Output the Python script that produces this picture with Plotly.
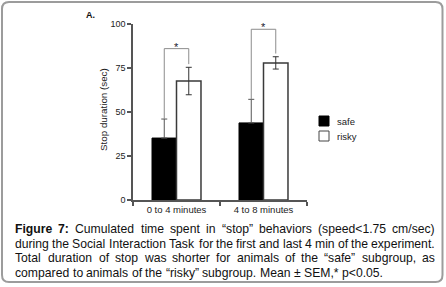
import plotly.graph_objects as go

# ---------------- data ----------------
categories = ["0 to 4 minutes", "4 to 8 minutes"]
series_names = ["safe", "risky"]
safe_mean = [35.2, 43.8]
safe_sem = [10.8, 13.4]
risky_mean = [67.6, 77.9]
risky_sem = [7.8, 3.5]
bracket_top = [86.0, 97.0]
y_ticks = [0, 25, 50, 75, 100]
significance = ["*", "*"]

caption_lines = [
    "Figure 7: Cumulated time spent in “stop” behaviors (speed<1.75 cm/sec)",
    "during the Social Interaction Task for the first and last 4 min of the experiment.",
    "Total duration of stop was shorter for animals of the “safe” subgroup, as",
    "compared to animals of the “risky” subgroup. Mean ± SEM,* p<0.05.",
]
bold_words = {"Figure", "7:"}

# ---------------- layout geometry (pixels) ----------------
WIDTH, HEIGHT = 446, 287
L, R, T, B = 133, 307, 24, 200
PW, PH = R - L, B - T

def X(px):
    return (px - L) / PW

def Y(py):
    return (B - py) / PH

FONT = "Liberation Sans, Arial, sans-serif"
BAR_GAP = 0.437
HALF = (1 - BAR_GAP) / 4  # center offset of each bar from category center

fig = go.Figure()
fig.add_trace(go.Bar(
    x=categories, y=safe_mean, name=series_names[0],
    marker=dict(color="#000000", line=dict(color="#000000", width=1)),
    error_y=dict(type="data", array=safe_sem, arrayminus=[0] * len(safe_sem),
                 symmetric=False, color="#555555", thickness=1, width=3),
    showlegend=False,
))
fig.add_trace(go.Bar(
    x=categories, y=risky_mean, name=series_names[1],
    marker=dict(color="#ffffff", line=dict(color="#3a3a3a", width=1.5)),
    error_y=dict(type="data", array=risky_sem, color="#333333", thickness=1, width=3),
    showlegend=False,
))

shapes = []
annotations = []

# significance brackets
for i in range(len(categories)):
    xl = i - HALF
    xr = i + HALF
    yl = safe_mean[i] + safe_sem[i]
    yr = risky_mean[i] + risky_sem[i] + 1.8
    top = bracket_top[i]
    shapes.append(dict(type="path", xref="x", yref="y",
                       path=f"M {xl},{yl} L {xl},{top} L {xr},{top} L {xr},{yr}",
                       line=dict(color="#8c8c8c", width=1)))
    annotations.append(dict(x=i, y=top, xref="x", yref="y", text=significance[i],
                            showarrow=False, yanchor="middle", yshift=2,
                            font=dict(family=FONT, size=11, color="#202030")))

# legend (manual)
legend_fill = ["#000000", "#ffffff"]
legend_line = ["#000000", "#444444"]
for k, nm in enumerate(series_names):
    yc = 121 + 15 * k
    shapes.append(dict(type="rect", xref="paper", yref="paper",
                       x0=X(319), x1=X(329), y0=Y(yc + 5), y1=Y(yc - 5),
                       fillcolor=legend_fill[k], line=dict(color=legend_line[k], width=1)))
    annotations.append(dict(x=X(336), y=Y(yc), xref="paper", yref="paper", text=nm,
                            showarrow=False, xanchor="left", yanchor="middle", borderpad=0,
                            font=dict(family=FONT, size=9.5, color="#222222")))

# y axis title
annotations.append(dict(x=X(103), y=Y(110), xref="paper", yref="paper",
                        text="Stop duration (sec)", textangle=-90, showarrow=False,
                        xanchor="center", yanchor="middle",
                        font=dict(family=FONT, size=9.8, color="#222222")))
# panel label
annotations.append(dict(x=X(85), y=Y(15.5), xref="paper", yref="paper",
                        text="<b>A.</b>", showarrow=False, xanchor="left", yanchor="middle",
                        borderpad=0, font=dict(family=FONT, size=9, color="#111111")))

# caption with justified lines
REG = {
    'a': 556, 'b': 556, 'c': 500, 'd': 556, 'e': 556, 'f': 278, 'g': 556, 'h': 556, 'i': 222,
    'j': 222, 'k': 500, 'l': 222, 'm': 833, 'n': 556, 'o': 556, 'p': 556, 'q': 556, 'r': 333,
    's': 500, 't': 278, 'u': 556, 'v': 500, 'w': 722, 'x': 500, 'y': 500, 'z': 500,
    'A': 667, 'B': 667, 'C': 722, 'D': 722, 'E': 667, 'F': 611, 'G': 778, 'H': 722, 'I': 278,
    'M': 833, 'N': 722, 'S': 667, 'T': 611, ' ': 278, '.': 278, ',': 278, ':': 278,
    '(': 333, ')': 333, '/': 278, '<': 584, '±': 584, '*': 389, '“': 333, '”': 333,
}
BOLD = {'F': 611, 'i': 278, 'g': 611, 'u': 611, 'r': 389, 'e': 556, '7': 556, ':': 333}
FS = 12.2

def wwidth(word, bold=False):
    tot = 0
    for ch in word:
        if ch.isdigit() and not bold:
            tot += 556
        elif bold:
            tot += BOLD.get(ch, 556)
        else:
            tot += REG.get(ch, 556)
    return tot * FS / 1000.0

def esc(s):
    return s.replace("&", "&amp;").replace("<", "&lt;").replace(">", "&gt;")

CAP_X0, CAP_X1 = 14, 434
line_centers = [229, 243.5, 258, 272.5]
for li, line in enumerate(caption_lines):
    words = line.split(" ")
    widths = [wwidth(w, w in bold_words and li == 0) for w in words]
    if li < len(caption_lines) - 1:
        gap = (CAP_X1 - CAP_X0 - sum(widths)) / (len(words) - 1)
    else:
        gap = 278 * FS / 1000.0
    xpos = CAP_X0
    for w, wd in zip(words, widths):
        txt = esc(w)
        if w in bold_words and li == 0:
            txt = f"<b>{txt}</b>"
        annotations.append(dict(x=X(xpos), y=Y(line_centers[li]), xref="paper", yref="paper",
                                text=txt, showarrow=False, xanchor="left", yanchor="middle",
                                borderpad=0, font=dict(family=FONT, size=FS, color="#111111")))
        xpos += wd + gap

# rounded border around the whole figure
def rounded(x0, y0, x1, y1, r):
    return (f"M {X(x0 + r)},{Y(y0)} L {X(x1 - r)},{Y(y0)} Q {X(x1)},{Y(y0)} {X(x1)},{Y(y0 + r)} "
            f"L {X(x1)},{Y(y1 - r)} Q {X(x1)},{Y(y1)} {X(x1 - r)},{Y(y1)} "
            f"L {X(x0 + r)},{Y(y1)} Q {X(x0)},{Y(y1)} {X(x0)},{Y(y1 - r)} "
            f"L {X(x0)},{Y(y0 + r)} Q {X(x0)},{Y(y0)} {X(x0 + r)},{Y(y0)} Z")

shapes.append(dict(type="path", xref="paper", yref="paper", path=rounded(2, 2, 442.5, 282, 7),
                   line=dict(color="#9c9c9c", width=2)))

fig.update_layout(
    width=WIDTH, height=HEIGHT,
    margin=dict(l=L, r=WIDTH - R, t=T, b=HEIGHT - B, pad=0),
    paper_bgcolor="#ffffff", plot_bgcolor="#ffffff",
    barmode="group", bargap=BAR_GAP, bargroupgap=0,
    showlegend=False,
    shapes=shapes, annotations=annotations,
    font=dict(family=FONT, color="#222222"),
    xaxis=dict(type="category", range=[-0.5, 1.5], tickson="boundaries",
               showline=True, linecolor="#555555", linewidth=1.5,
               ticks="outside", ticklen=4, tickcolor="#555555", tickwidth=1.5,
               showgrid=False, zeroline=False,
               tickfont=dict(family=FONT, size=9.5, color="#222222")),
    yaxis=dict(range=[0, 100], tickvals=y_ticks,
               showline=True, linecolor="#555555", linewidth=1.5,
               ticks="outside", ticklen=4, tickcolor="#555555", tickwidth=1.5,
               showgrid=False, zeroline=False,
               tickfont=dict(family=FONT, size=9, color="#222222")),
)

fig.write_html("out.html", config={"displayModeBar": False},
               post_script="document.body.style.margin='0px';document.body.style.overflow='hidden';")
